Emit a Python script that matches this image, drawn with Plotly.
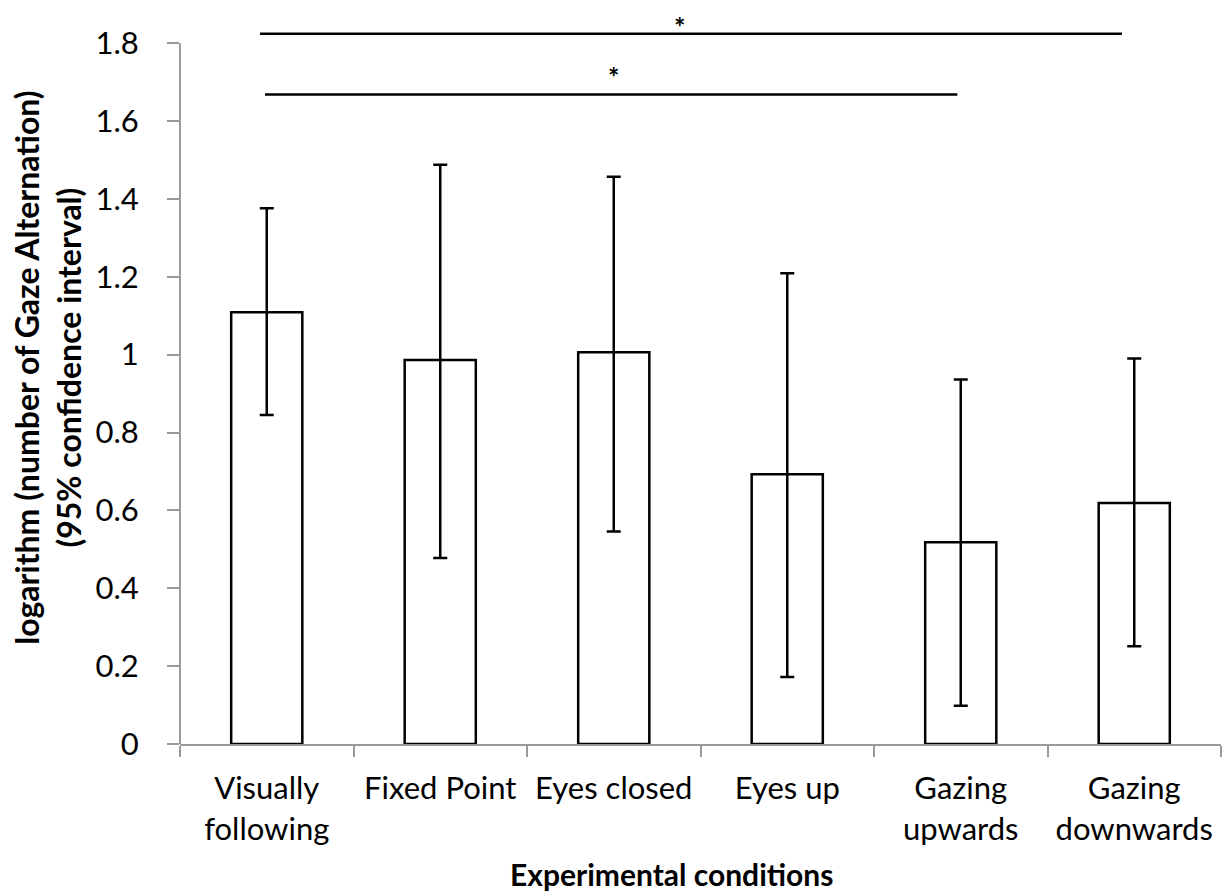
import plotly.graph_objects as go

categories = ["Visually<br>following", "Fixed Point", "Eyes closed", "Eyes up",
              "Gazing<br>upwards", "Gazing<br>downwards"]
means = [1.109, 0.986, 1.006, 0.693, 0.518, 0.619]
ci_upper = [1.376, 1.488, 1.457, 1.209, 0.936, 0.990]
ci_lower = [0.845, 0.478, 0.546, 0.172, 0.098, 0.251]
y_ticks = [0, 0.2, 0.4, 0.6, 0.8, 1, 1.2, 1.4, 1.6, 1.8]
y_tick_text = ["0", "0.2", "0.4", "0.6", "0.8", "1", "1.2", "1.4", "1.6", "1.8"]

# significance brackets: (x start, x end, y level) and star positions
sig_x0 = [-0.039, -0.010]
sig_x1 = [4.929, 3.980]
sig_y = [1.824, 1.668]
star_x = [2.378, 1.997]
star_y = [1.862, 1.732]

err_plus = [u - m for u, m in zip(ci_upper, means)]
err_minus = [m - l for m, l in zip(means, ci_lower)]

FONT = "Lato"
AXIS_GREY = "#9a9a9a"
Y_MAX = 1.88

fig = go.Figure()
fig.add_trace(go.Bar(
    x=categories, y=means,
    marker=dict(color="white", line=dict(color="black", width=2.5)),
    width=0.41,
    error_y=dict(type="data", symmetric=False, array=err_plus, arrayminus=err_minus,
                 color="black", thickness=2.5, width=7),
    showlegend=False,
))

shapes = [dict(type="line", xref="paper", yref="y", x0=0, x1=0, y0=0, y1=y_ticks[-1],
               line=dict(color=AXIS_GREY, width=2))]
for x0, x1, y in zip(sig_x0, sig_x1, sig_y):
    shapes.append(dict(type="line", xref="x", yref="y", x0=x0, x1=x1, y0=y, y1=y,
                       line=dict(color="black", width=2.5)))

annotations = []
for sx, sy in zip(star_x, star_y):
    annotations.append(dict(x=sx, y=sy, xref="x", yref="y", text="<b>*</b>",
                            showarrow=False, font=dict(family=FONT, size=27, color="black"),
                            yanchor="middle", yshift=-7))
annotations.append(dict(xref="paper", yref="paper", x=0, y=0.514, xshift=-132,
                        xanchor="center", yanchor="middle",
                        text="<b>logarithm (number of Gaze Alternation)<br>(95% confidence interval)</b>",
                        textangle=-90, showarrow=False,
                        font=dict(family=FONT, size=32, color="black")))
annotations.append(dict(xref="paper", yref="paper", x=0.472, y=-0.1776,
                        xanchor="center", yanchor="middle",
                        text="<b>Experimental conditions</b>", showarrow=False,
                        font=dict(family=FONT, size=30, color="black")))

# page body has an 8px margin: compensate so the plot area lands at the same pixels
fig.update_layout(
    width=1230, height=896,
    margin=dict(l=172, r=17, t=4, b=160),
    paper_bgcolor="white", plot_bgcolor="white",
    font=dict(family=FONT, size=31, color="black"),
    shapes=shapes, annotations=annotations,
    xaxis=dict(type="category", range=[-0.5, 5.5], showline=True, linecolor=AXIS_GREY,
               linewidth=2, ticks="outside", tickson="boundaries", ticklen=11,
               tickcolor=AXIS_GREY, tickwidth=2, showgrid=False, zeroline=False,
               ticklabelstandoff=16, tickfont=dict(family=FONT, size=31)),
    yaxis=dict(range=[0, Y_MAX], showline=False, tickvals=y_ticks, ticktext=y_tick_text,
               ticks="outside", ticklen=12, tickcolor=AXIS_GREY, tickwidth=2,
               showgrid=False, zeroline=False, ticklabelstandoff=22,
               tickfont=dict(family=FONT, size=31)),
)

fig.write_html("out.html")
